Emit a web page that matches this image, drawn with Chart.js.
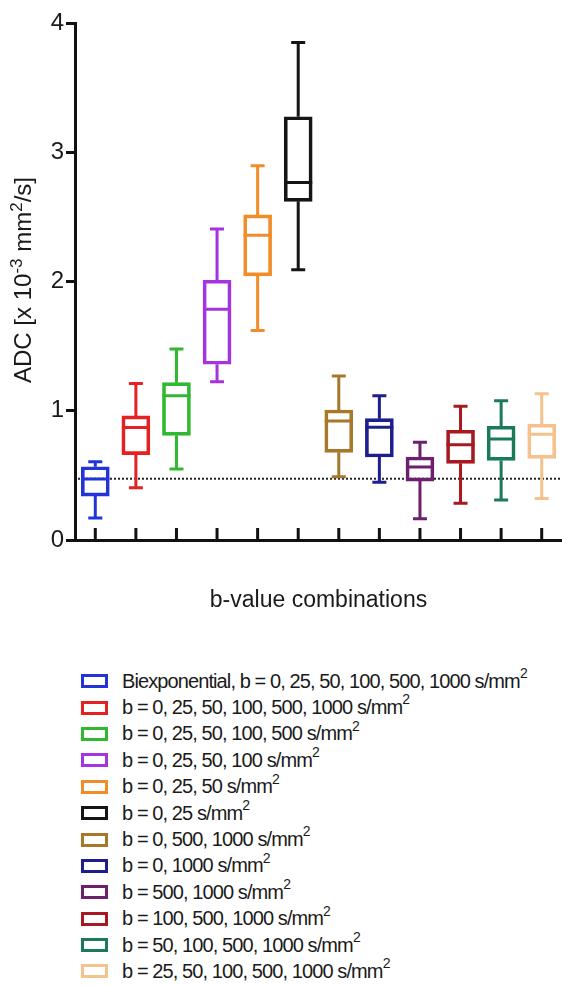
<!DOCTYPE html>
<html>
<head>
<meta charset="utf-8">
<script src="https://cdn.jsdelivr.net/npm/chart.js@4.4.1/dist/chart.umd.min.js"></script>
<style>
  body { margin: 0; background: #fff; width: 562px; height: 985px; overflow: hidden;
         font-family: "Liberation Sans", Arial, sans-serif; color: #1a1a1a; }
  #chartBox { position: absolute; left: 0; top: 0; width: 562px; height: 630px; }
  #legend { position: absolute; left: 81px; top: 668px; }
  .row { display: flex; align-items: center; height: 26.4px; white-space: nowrap;
         font-size: 20px; letter-spacing: -0.9px; }
  .swatch { width: 21px; height: 8px; border: 3px solid; margin-right: 14px; flex: none; }
  .row sup { font-size: 14px; line-height: 0; position: relative; top: -2px; }
</style>
</head>
<body>
<div id="chartBox"><canvas id="chart"></canvas></div>
<div id="legend"></div>
<script>
const groups = [
  'Biexponential, b = 0, 25, 50, 100, 500, 1000 s/mm²',
  'b = 0, 25, 50, 100, 500, 1000 s/mm²',
  'b = 0, 25, 50, 100, 500 s/mm²',
  'b = 0, 25, 50, 100 s/mm²',
  'b = 0, 25, 50 s/mm²',
  'b = 0, 25 s/mm²',
  'b = 0, 500, 1000 s/mm²',
  'b = 0, 1000 s/mm²',
  'b = 500, 1000 s/mm²',
  'b = 100, 500, 1000 s/mm²',
  'b = 50, 100, 500, 1000 s/mm²',
  'b = 25, 50, 100, 500, 1000 s/mm²'
]
const colors = ['#2233d8', '#e52222', '#30b830', '#a633e0', '#f28c28', '#151515',
                '#a8782a', '#1e1e8e', '#6e1f6e', '#a81820', '#1b7a58', '#f5c28e']

// ADC values in 10^-3 mm2/s
const whiskerLow  = [0.17, 0.405, 0.55, 1.225, 1.62, 2.09, 0.49, 0.446, 0.165, 0.284, 0.31, 0.322]
const q1          = [0.34, 0.66, 0.81, 1.36, 2.043, 2.62, 0.678, 0.642, 0.456, 0.593, 0.616, 0.632]
const median      = [0.472, 0.87, 1.117, 1.785, 2.358, 2.765, 0.92, 0.872, 0.565, 0.737, 0.781, 0.818]
const q3          = [0.567, 0.96, 1.217, 2.01, 2.515, 3.275, 1.006, 0.939, 0.642, 0.849, 0.88, 0.897]
const whiskerHigh = [0.606, 1.21, 1.478, 2.406, 2.896, 3.85, 1.269, 1.117, 0.756, 1.034, 1.078, 1.132]
const referenceLine = 0.474
const yTicks = [0, 1, 2, 3, 4]

const yTitle = [['ADC [x 10', false], ['-3', true], [' mm', false], ['2', true], ['/s]', false]]
const xTitle = 'b-value combinations'

const boxWhiskers = {
  id: 'boxWhiskers',
  beforeDatasetsDraw(chart) {
    const { ctx, chartArea, scales: { y } } = chart
    const yr = y.getPixelForValue(referenceLine)
    ctx.save()
    ctx.strokeStyle = '#222'
    ctx.lineWidth = 2
    ctx.setLineDash([2, 2])
    ctx.beginPath()
    ctx.moveTo(chartArea.left + 3, yr)
    ctx.lineTo(chartArea.right, yr)
    ctx.stroke()
    ctx.restore()
  },
  afterDatasetsDraw(chart) {
    const { ctx, scales: { x, y } } = chart
    const bars = chart.getDatasetMeta(0).data
    ctx.save()
    ctx.lineWidth = 3
    ctx.lineCap = 'butt'
    bars.forEach((bar, i) => {
      const cx = x.getPixelForValue(i)
      const half = bar.width / 2
      const cap = half * 0.5
      ctx.strokeStyle = colors[i]
      ctx.beginPath()
      // median
      ctx.moveTo(cx - half, y.getPixelForValue(median[i]))
      ctx.lineTo(cx + half, y.getPixelForValue(median[i]))
      // whiskers
      ctx.moveTo(cx, y.getPixelForValue(q3[i]))
      ctx.lineTo(cx, y.getPixelForValue(whiskerHigh[i]))
      ctx.moveTo(cx, y.getPixelForValue(q1[i]))
      ctx.lineTo(cx, y.getPixelForValue(whiskerLow[i]))
      // caps
      ctx.moveTo(cx - cap, y.getPixelForValue(whiskerHigh[i]))
      ctx.lineTo(cx + cap, y.getPixelForValue(whiskerHigh[i]))
      ctx.moveTo(cx - cap, y.getPixelForValue(whiskerLow[i]))
      ctx.lineTo(cx + cap, y.getPixelForValue(whiskerLow[i]))
      ctx.stroke()
    })
    // x ticks pointing into the plot
    ctx.strokeStyle = '#111'
    const y0 = y.getPixelForValue(0)
    ctx.beginPath()
    groups.forEach((g, i) => {
      const cx = x.getPixelForValue(i)
      ctx.moveTo(cx, y0)
      ctx.lineTo(cx, y0 - 12)
    })
    ctx.stroke()
    ctx.restore()
  },
  afterDraw(chart) {
    const { ctx, chartArea } = chart
    ctx.save()
    ctx.fillStyle = '#1a1a1a'
    ctx.textBaseline = 'middle'
    // x title
    ctx.font = '23px "Liberation Sans", Arial, sans-serif'
    ctx.textAlign = 'center'
    ctx.fillText(xTitle, (chartArea.left + chartArea.right) / 2, 601)
    // y title with superscripts
    ctx.translate(24, 280)
    ctx.rotate(-Math.PI / 2)
    ctx.textAlign = 'left'
    const big = '24px "Liberation Sans", Arial, sans-serif'
    const small = '17px "Liberation Sans", Arial, sans-serif'
    let total = 0
    yTitle.forEach(([t, sup]) => { ctx.font = sup ? small : big; total += ctx.measureText(t).width })
    let px = -total / 2
    yTitle.forEach(([t, sup]) => {
      ctx.font = sup ? small : big
      ctx.fillText(t, px, sup ? -7 : 0)
      px += ctx.measureText(t).width
    })
    ctx.restore()
  }
}

new Chart(document.getElementById('chart'), {
  type: 'bar',
  data: {
    labels: groups,
    datasets: [{
      data: q1.map((v, i) => [v, q3[i]]),
      backgroundColor: 'rgba(0,0,0,0)',
      borderColor: colors,
      borderWidth: 3,
      borderSkipped: false,
      barThickness: 28
    }]
  },
  options: {
    responsive: true,
    maintainAspectRatio: false,
    animation: false,
    layout: { padding: { top: 23, right: 0, left: 0, bottom: 0 } },
    plugins: { legend: { display: false }, tooltip: { enabled: false } },
    scales: {
      x: {
        type: 'category',
        offset: true,
        ticks: { display: false },
        grid: { display: false },
        border: { display: true, color: '#111', width: 3 },
        afterFit: (s) => { s.height = 90 }
      },
      y: {
        min: yTicks[0],
        max: yTicks[yTicks.length - 1],
        afterBuildTicks: (s) => { s.ticks = yTicks.map(v => ({ value: v })) },
        ticks: { color: '#1a1a1a', font: { size: 24, family: '"Liberation Sans", Arial, sans-serif' }, padding: 2 },
        grid: { drawOnChartArea: false, tickLength: 9, tickWidth: 3, tickColor: '#111' },
        border: { display: true, color: '#111', width: 3 },
        afterFit: (s) => { s.width = 75 }
      }
    }
  },
  plugins: [boxWhiskers]
})

const legend = document.getElementById('legend')
groups.forEach((g, i) => {
  const row = document.createElement('div')
  row.className = 'row'
  const sw = document.createElement('span')
  sw.className = 'swatch'
  sw.style.borderColor = colors[i]
  const txt = document.createElement('span')
  txt.innerHTML = g.replace('²', '<sup>2</sup>')
  row.appendChild(sw)
  row.appendChild(txt)
  legend.appendChild(row)
})
</script>
</body>
</html>
